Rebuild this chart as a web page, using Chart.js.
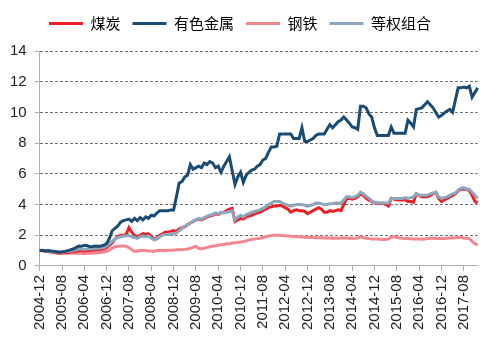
<!DOCTYPE html>
<html>
<head>
<meta charset="utf-8">
<script src="https://cdn.jsdelivr.net/npm/chart.js@4/dist/chart.umd.min.js"></script>
<style>
  html, body { margin: 0; padding: 0; background: #fff; }
  #wrap { width: 486px; height: 342px; }
</style>
</head>
<body>
<div id="wrap"><canvas id="myChart"></canvas></div>
<script>
// 月度序列，2004-12 起共 158 个月
const meses = [];
for (let y = 2004, m = 12; meses.length < 158; ) {
  meses.push(y + "-" + String(m).padStart(2, "0"));
  m++;
  if (m > 12) { m = 1; y++; }
}

const meitan = [
  1.0,1.0,0.98,0.95,0.92,0.9,0.88,0.85,0.85,0.87,0.88,0.9,
  0.92,0.95,1.0,1.0,0.98,1.0,1.0,1.02,1.05,1.05,1.08,1.1,
  1.2,1.35,1.5,1.75,1.9,2.0,2.0,2.05,2.5,2.2,2.0,1.9,
  2.0,2.1,2.05,2.1,1.9,1.75,1.8,2.0,2.1,2.2,2.2,2.25,
  2.3,2.25,2.4,2.5,2.55,2.7,2.8,2.9,3.0,3.05,3.0,3.1,
  3.2,3.25,3.3,3.4,3.35,3.45,3.5,3.6,3.7,3.75,2.9,3.0,
  3.1,3.05,3.2,3.25,3.3,3.4,3.45,3.5,3.6,3.7,3.8,3.85,
  3.9,3.9,3.95,3.9,3.8,3.7,3.5,3.6,3.65,3.6,3.6,3.55,
  3.4,3.5,3.6,3.7,3.8,3.7,3.5,3.5,3.6,3.55,3.6,3.65,
  3.6,4.0,4.4,4.4,4.35,4.4,4.5,4.7,4.6,4.4,4.3,4.2,
  4.1,4.1,4.05,4.1,4.0,3.9,4.4,4.35,4.3,4.3,4.3,4.3,
  4.2,4.2,4.15,4.7,4.6,4.5,4.5,4.5,4.6,4.7,4.8,4.4,
  4.2,4.3,4.4,4.5,4.6,4.7,4.9,5.0,5.0,5.0,4.9,4.6,
  4.2,4.1
];

const youse = [
  1.0,1.02,0.98,1.0,0.97,0.95,0.93,0.9,0.92,0.95,1.0,1.05,
  1.1,1.2,1.3,1.28,1.35,1.32,1.25,1.27,1.3,1.28,1.3,1.35,
  1.45,1.8,2.3,2.45,2.6,2.85,2.95,3.0,3.05,2.9,3.1,2.95,
  3.15,3.0,3.2,3.1,3.3,3.25,3.45,3.6,3.6,3.6,3.6,3.65,
  3.65,4.5,5.4,5.5,5.8,5.9,6.6,6.3,6.4,6.5,6.4,6.7,
  6.6,6.8,6.7,6.4,6.5,6.1,6.5,6.8,7.1,6.2,5.3,5.8,
  6.1,5.45,5.9,6.1,6.25,6.3,6.5,6.6,6.9,7.0,7.4,7.75,
  7.75,7.8,8.6,8.6,8.6,8.6,8.6,8.3,8.3,8.3,9.0,8.1,
  8.1,8.2,8.3,8.5,8.6,8.6,8.6,8.9,9.2,9.0,9.2,9.4,
  9.5,9.7,9.5,9.3,9.05,9.0,8.9,10.4,10.4,10.3,9.9,9.7,
  9.0,8.5,8.5,8.5,8.5,8.5,9.05,8.65,8.65,8.65,8.65,8.65,
  9.5,9.3,9.05,10.2,10.25,10.3,10.5,10.7,10.5,10.3,10.0,9.7,
  9.8,9.95,10.1,10.2,10.0,10.8,11.6,11.6,11.65,11.6,11.7,11.0,
  11.3,11.6
];

const gangtie = [
  1.0,0.98,0.95,0.92,0.9,0.88,0.85,0.82,0.82,0.83,0.83,0.82,
  0.82,0.83,0.84,0.82,0.8,0.82,0.83,0.85,0.85,0.86,0.88,0.9,
  0.95,1.05,1.15,1.25,1.28,1.3,1.3,1.28,1.2,1.05,0.95,0.98,
  1.0,1.02,1.0,0.98,0.97,0.95,1.0,1.02,1.0,1.0,1.02,1.03,
  1.03,1.05,1.05,1.05,1.08,1.1,1.15,1.22,1.28,1.15,1.1,1.15,
  1.2,1.25,1.3,1.32,1.35,1.38,1.4,1.45,1.45,1.5,1.5,1.55,
  1.55,1.6,1.62,1.7,1.72,1.75,1.78,1.8,1.85,1.88,1.95,1.98,
  2.0,2.0,2.0,1.98,1.97,1.95,1.93,1.92,1.9,1.9,1.88,1.87,
  1.86,1.85,1.85,1.83,1.83,1.83,1.82,1.82,1.82,1.8,1.8,1.8,
  1.82,1.83,1.82,1.8,1.8,1.8,1.82,1.88,1.85,1.8,1.78,1.76,
  1.75,1.75,1.74,1.73,1.74,1.75,1.88,1.9,1.85,1.82,1.8,1.78,
  1.78,1.77,1.76,1.75,1.75,1.74,1.76,1.78,1.8,1.8,1.78,1.78,
  1.78,1.79,1.8,1.82,1.82,1.83,1.85,1.85,1.82,1.8,1.78,1.6,
  1.45,1.35
];

const dengquan = [
  1.0,1.0,1.0,0.98,0.95,0.93,0.92,0.9,0.9,0.92,0.95,0.97,
  1.0,1.05,1.1,1.1,1.08,1.1,1.1,1.12,1.15,1.15,1.18,1.2,
  1.3,1.45,1.6,1.75,1.85,1.9,1.95,1.95,2.0,1.9,1.85,1.8,
  1.9,1.95,1.9,1.95,1.8,1.7,1.75,1.9,2.0,2.05,2.05,2.1,
  2.1,2.15,2.3,2.45,2.55,2.65,2.8,2.9,3.0,3.1,3.05,3.15,
  3.25,3.3,3.35,3.45,3.4,3.5,3.45,3.5,3.55,3.6,3.0,3.2,
  3.3,3.2,3.35,3.4,3.5,3.55,3.6,3.65,3.75,3.85,4.0,4.1,
  4.2,4.2,4.2,4.1,4.0,3.95,3.9,3.95,4.0,4.0,4.0,3.95,
  3.9,3.95,4.0,4.1,4.1,4.05,4.0,4.0,4.05,4.05,4.1,4.1,
  4.1,4.3,4.5,4.5,4.45,4.5,4.6,4.8,4.7,4.55,4.4,4.25,
  4.15,4.1,4.1,4.1,4.1,4.1,4.4,4.4,4.4,4.4,4.4,4.45,
  4.4,4.45,4.5,4.7,4.6,4.6,4.6,4.6,4.7,4.75,4.8,4.5,
  4.4,4.45,4.5,4.6,4.7,4.75,4.95,5.05,5.1,5.0,5.0,4.8,
  4.6,4.4
];

const yTicks = [0, 2, 4, 6, 8, 10, 12, 14];

function serie(label, data, color, order) {
  return {
    label: label,
    data: data,
    borderColor: color,
    backgroundColor: color,
    borderWidth: 3,
    pointRadius: 0,
    pointStyle: "line",
    tension: 0,
    order: order
  };
}

// 图例下方多留一点空
const legendGap = {
  id: "legendGap",
  beforeInit(chart) {
    const fit = chart.legend.fit;
    chart.legend.fit = function () {
      fit.bind(chart.legend)();
      this.height += 10;
    };
  }
};

const ctx = document.getElementById("myChart").getContext("2d");
const myChart = new Chart(ctx, {
  type: "line",
  data: {
    labels: meses,
    datasets: [
      serie("煤炭", meitan, "#ee1f26", 2),
      serie("有色金属", youse, "#1b4b73", 0),
      serie("钢铁", gangtie, "#f4868f", 3),
      serie("等权组合", dengquan, "#8fa6bf", 1)
    ]
  },
  plugins: [legendGap],
  options: {
    responsive: true,
    maintainAspectRatio: false,
    animation: false,
    devicePixelRatio: 1,
    layout: { padding: { top: 4, right: 8, left: 2, bottom: 8 } },
    plugins: {
      tooltip: { enabled: false },
      legend: {
        position: "top",
        labels: {
          usePointStyle: true,
          pointStyleWidth: 34,
          padding: 12,
          color: "#000",
          font: { family: "'Noto Sans CJK SC', sans-serif", size: 15 },
          sort: (a, b) => a.datasetIndex - b.datasetIndex
        }
      }
    },
    scales: {
      x: {
        offset: false,
        afterBuildTicks: (scale) => {
          scale.ticks = scale.ticks.filter((t, i) => i % 8 === 0);
        },
        ticks: {
          autoSkip: false,
          minRotation: 90,
          maxRotation: 90,
          padding: 4,
          color: "#222",
          font: { family: "'Liberation Sans', Arial, sans-serif", size: 15 }
        },
        grid: {
          drawOnChartArea: false,
          tickLength: 5,
          color: "#b0b0b0"
        },
        border: { color: "#b0b0b0", width: 1 }
      },
      y: {
        min: 0,
        max: 14,
        afterBuildTicks: (scale) => {
          scale.ticks = yTicks.map(v => ({ value: v }));
        },
        ticks: {
          padding: 8,
          color: "#222",
          font: { family: "'Liberation Sans', Arial, sans-serif", size: 15 }
        },
        grid: {
          tickLength: 5,
          color: (c) => (c.tick && c.tick.value === 0 ? "rgba(0,0,0,0)" : "#707070"),
          tickColor: "#b0b0b0",
          tickBorderDash: []
        },
        border: { color: "#b0b0b0", width: 1, dash: [3, 2] }
      }
    }
  }
});
</script>
</body>
</html>
